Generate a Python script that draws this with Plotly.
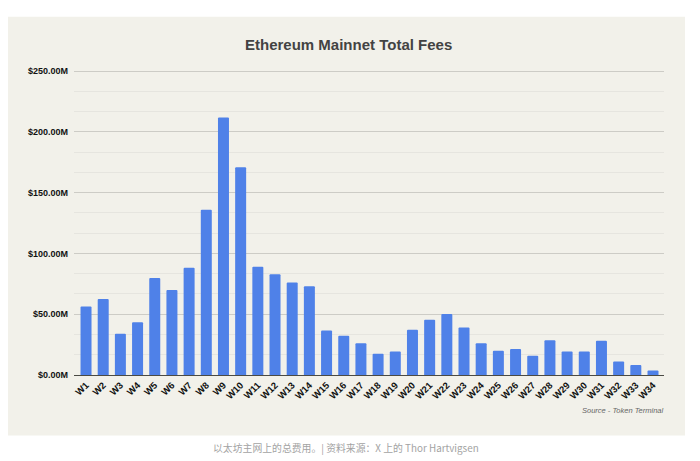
"""Ethereum mainnet total fees per week, bar chart."""
import plotly.graph_objects as go

weeks = [f"W{i}" for i in range(1, 35)]
fees_musd = [
    56.3, 62.6, 34.0, 43.4, 79.8, 70.0, 88.3, 136.0, 212.0, 171.0,
    89.0, 83.0, 76.2, 73.0, 36.6, 32.2, 26.2, 17.5, 19.4, 37.2,
    45.4, 50.3, 39.0, 26.2, 20.0, 21.3, 15.8, 28.7, 19.4, 19.4,
    28.1, 11.2, 8.2, 3.8,
]
y_ticks = [0, 50, 100, 150, 200, 250]
y_labels = ["$0.00M", "$50.00M", "$100.00M", "$150.00M", "$200.00M", "$250.00M"]

title = "Ethereum Mainnet Total Fees"
source = "Source - Token Terminal"
caption = "以太坊主网上的总费用。| 资料来源：X 上的 Thor Hartvigsen"

# page body has an 8px margin, so everything sits 8px in from the window corner
PAGE = 8
WIDTH, HEIGHT = 700 - 2 * PAGE, 449
LEFT = 74 - PAGE
RIGHT = 700 - 664 - PAGE
TOP = 70.3 - PAGE
BOTTOM = PAGE + HEIGHT - 375.5
plot_w = WIDTH - LEFT - RIGHT
plot_h = HEIGHT - TOP - BOTTOM


def px(x):
    return (x - PAGE - LEFT) / plot_w


def py(y):
    return (HEIGHT - BOTTOM - (y - PAGE)) / plot_h


fig = go.Figure()
fig.add_trace(go.Bar(
    x=weeks,
    y=fees_musd,
    width=0.64,
    marker=dict(color="#4f81e8", cornerradius=1.5, line=dict(width=0)),
))

fig.update_layout(
    width=WIDTH,
    height=HEIGHT,
    autosize=False,
    margin=dict(l=LEFT, r=RIGHT, t=TOP, b=BOTTOM, pad=0),
    paper_bgcolor="white",
    plot_bgcolor="rgba(0,0,0,0)",
    showlegend=False,
    font=dict(family="Liberation Sans, Arial, sans-serif"),
    shapes=[dict(
        type="rect", xref="paper", yref="paper", layer="below",
        x0=px(8), x1=px(685), y0=py(436), y1=py(17),
        fillcolor="#f2f1ea", line=dict(width=0),
    )],
    annotations=[
        dict(text=f"<b>{title}</b>", xref="paper", yref="paper",
             x=px(348), y=py(45), xanchor="center", yanchor="middle",
             showarrow=False, font=dict(size=15, color="#434343")),
        dict(text=f"<i>{source}</i>", xref="paper", yref="paper",
             x=px(665), y=py(411), xanchor="right", yanchor="middle",
             showarrow=False, font=dict(size=7.5, color="#666666")),
        dict(text=caption, xref="paper", yref="paper",
             x=px(346), y=py(449), xanchor="center", yanchor="middle",
             showarrow=False,
             font=dict(size=9.85, color="#a3a3a3",
                       family="Noto Sans CJK SC, Noto Sans, sans-serif")),
    ],
)

fig.update_xaxes(
    type="category",
    range=[-0.7, 33.64],
    tickangle=-45,
    tickfont=dict(size=9.5, color="#111111", weight="bold"),
    showgrid=False,
    showline=True,
    linecolor="#4a4a44",
    linewidth=1,
    ticks="",
    ticklen=0,
)
fig.update_yaxes(
    range=[0, 251],
    tickvals=y_ticks,
    ticktext=y_labels,
    tickfont=dict(size=9, color="#111111", weight="bold"),
    ticks="",
    ticklabelstandoff=5,
    showgrid=True,
    gridcolor="#cdccc6",
    gridwidth=1,
    zeroline=False,
    minor=dict(dtick=50 / 3, tick0=0, showgrid=True,
               gridcolor="#e6e5df", gridwidth=1, ticks=""),
)

fig.write_html("out.html")
